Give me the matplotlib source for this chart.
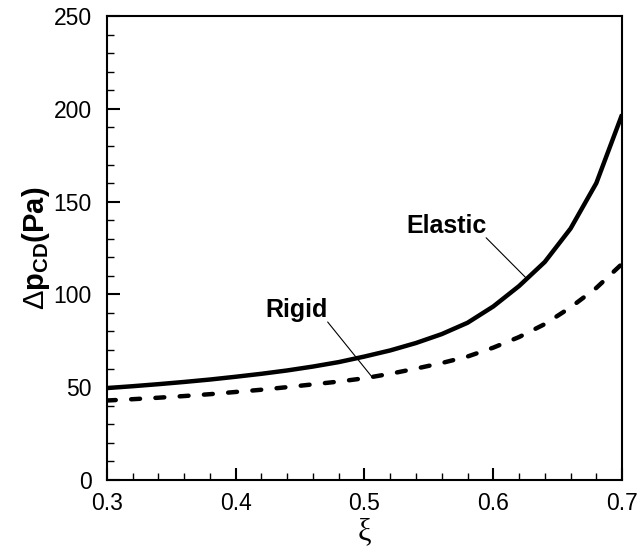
import matplotlib.pyplot as plt
from matplotlib.ticker import MultipleLocator

# Data (xi step 0.02)
xi = [0.30, 0.32, 0.34, 0.36, 0.38, 0.40, 0.42, 0.44, 0.46, 0.48, 0.50,
      0.52, 0.54, 0.56, 0.58, 0.60, 0.62, 0.64, 0.66, 0.68, 0.70]
dp_elastic = [49.5, 50.5, 51.6, 52.8, 54.1, 55.6, 57.2, 59.0, 61.1, 63.5, 66.5,
              69.8, 73.8, 78.6, 84.7, 93.5, 104.5, 117.5, 135.5, 160.0, 197.0]
dp_rigid = [42.8, 43.5, 44.3, 45.2, 46.2, 47.4, 48.6, 50.0, 51.5, 53.0, 54.8,
            57.2, 60.0, 63.0, 66.5, 71.3, 77.0, 84.0, 93.0, 103.5, 116.5]

plt.rcParams['font.family'] = ['Liberation Sans', 'DejaVu Sans']
plt.rcParams['mathtext.fontset'] = 'custom'
plt.rcParams['mathtext.rm'] = 'Liberation Sans'
plt.rcParams['mathtext.bf'] = 'Liberation Sans:bold'
plt.rcParams['lines.scale_dashes'] = False

fig = plt.figure(figsize=(6.4, 5.58), dpi=100)
ax = fig.add_axes([0.167, 0.140, 0.805, 0.831])

ax.plot(xi, dp_elastic, color='black', lw=3.2, solid_capstyle='butt')
ax.plot(xi, dp_rigid, color='black', lw=3.2, dashes=(6.4, 11.1),
        dash_capstyle='round')

ax.set_xlim(0.3, 0.7)
ax.set_ylim(0, 250)
ax.xaxis.set_major_locator(MultipleLocator(0.1))
ax.xaxis.set_minor_locator(MultipleLocator(0.02))
ax.yaxis.set_major_locator(MultipleLocator(50))
ax.yaxis.set_minor_locator(MultipleLocator(10))
ax.tick_params(which='both', direction='in', top=False, right=False)
ax.tick_params(which='major', length=9, width=1.5, labelsize=16.5)
ax.tick_params(axis='y', which='major', pad=11)
ax.tick_params(axis='x', which='major', pad=9)
ax.tick_params(which='minor', length=5, width=1.0)
for s in ax.spines.values():
    s.set_linewidth(1.5)

ax.set_xlabel('ξ', fontsize=22, family=['Liberation Serif', 'DejaVu Serif'], labelpad=1)
ax.set_ylabel(r'$\Delta\mathbf{p}_{\mathbf{CD}}\mathbf{(Pa)}$', fontsize=21, labelpad=1)

line_props = dict(arrowstyle='-', color='black', lw=0.8, shrinkA=0, shrinkB=0,
                  relpos=(1, 0), patchA=None)
ax.annotate('Elastic', xy=(0.626, 108.5), xytext=(0.5633, 137), fontsize=18,
            fontweight='bold', ha='center', va='center', arrowprops=line_props)
ax.annotate('Rigid', xy=(0.5056, 55.7), xytext=(0.4472, 91.6), fontsize=18,
            fontweight='bold', ha='center', va='center', arrowprops=line_props)

fig.savefig('out.png', dpi=100)
